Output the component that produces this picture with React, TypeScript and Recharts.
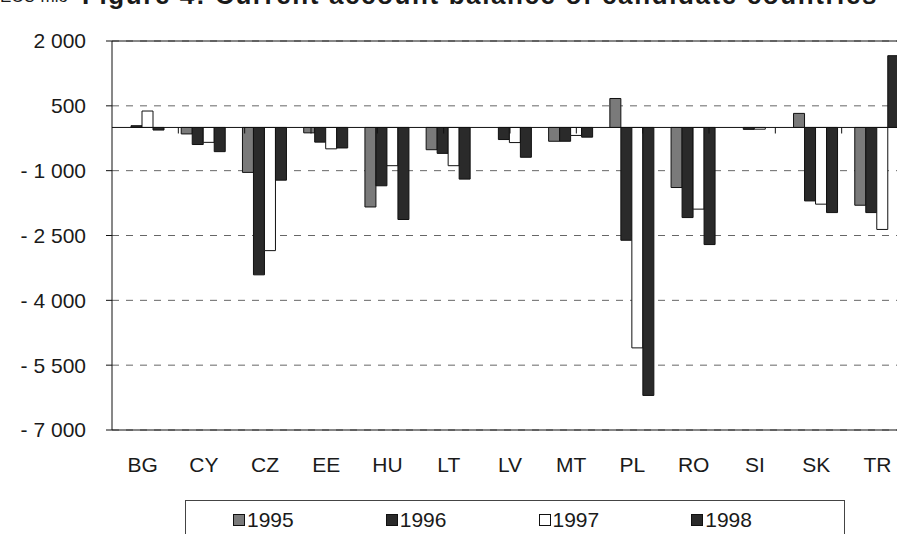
import { Bar, BarChart, CartesianGrid, ReferenceLine, XAxis, YAxis } from "recharts";

const countries = ["BG", "CY", "CZ", "EE", "HU", "LT", "LV", "MT", "PL", "RO", "SI", "SK", "TR"];
const years = ["1995", "1996", "1997", "1998"];
const values1995 = [null, -150, -1040, -125, -1840, -515, null, -320, 670, -1390, null, 325, -1800];
const values1996 = [40, -395, -3410, -340, -1350, -600, -280, -320, -2610, -2085, -45, -1700, -1970];
const values1997 = [380, -345, -2850, -495, -885, -885, -350, -185, -5100, -1890, -40, -1775, -2360];
const values1998 = [-60, -560, -1220, -475, -2130, -1195, -690, -225, -6200, -2710, null, -1970, 1660];
const yTicks = [2000, 500, -1000, -2500, -4000, -5500, -7000];

const seriesValues = [values1995, values1996, values1997, values1998];
const fills = ["#7a7a7a", "#2a2a2a", "#ffffff", "#2a2a2a"];

const chartData = countries.map((country, i) => {
  const row: Record<string, string | number | null> = { country };
  years.forEach((year, s) => {
    row[year] = seriesValues[s][i];
  });
  return row;
});

// category boundaries for the small ticks on the zero line
const boundaries = countries.slice(1).map((_, i) => i + 1);

const font = "'Liberation Sans', Arial, sans-serif";

const formatTick = (v: number) => {
  const s = Math.abs(v)
    .toString()
    .replace(/\B(?=(\d{3})+(?!\d))/g, " ");
  return v < 0 ? `- ${s}` : s;
};

const App = () => {
  return (
    <div
      style={{
        position: "absolute",
        left: 0,
        top: 0,
        width: 897,
        height: 534,
        overflow: "hidden",
        background: "#fff",
        fontFamily: font,
        color: "#1a1a1a",
      }}
    >
      <div style={{ position: "absolute", left: 0, top: -13, fontSize: 17, lineHeight: "20px", whiteSpace: "nowrap" }}>
        ECU mio
      </div>
      <div
        style={{
          position: "absolute",
          left: 82,
          top: -17,
          fontSize: 26,
          lineHeight: "24px",
          fontWeight: "bold",
          letterSpacing: 1.6,
          whiteSpace: "nowrap",
        }}
      >
        Figure 4: Current account balance of candidate countries
      </div>
      <div style={{ position: "absolute", left: 0, top: 0 }}>
        <BarChart
          width={920}
          height={534}
          data={chartData}
          margin={{ top: 41, right: 12, left: 0, bottom: 64 }}
          barCategoryGap={8}
          barGap={0}
        >
          <CartesianGrid vertical={false} stroke="#666" strokeDasharray="7 7" />
          <XAxis
            dataKey="country"
            tickLine={false}
            axisLine={{ stroke: "#111" }}
            height={40}
            tickSize={0}
            tickMargin={27}
            interval={0}
            tick={{ fill: "#1a1a1a", fontSize: 21, fontFamily: font }}
          />
          <XAxis xAxisId="grid" type="number" domain={[0, countries.length]} hide />
          <YAxis
            domain={[-7000, 2000]}
            ticks={yTicks}
            interval={0}
            allowDataOverflow
            width={112}
            tickSize={6}
            tickMargin={20}
            tickFormatter={formatTick}
            axisLine={{ stroke: "#111" }}
            tickLine={{ stroke: "#111" }}
            tick={{ fill: "#1a1a1a", fontSize: 21, fontFamily: font }}
          />
          <ReferenceLine y={2000} stroke="#111" />
          {years.map((year, s) => (
            <Bar
              key={year}
              dataKey={year}
              fill={fills[s]}
              stroke="#111"
              strokeWidth={1}
              isAnimationActive={false}
            />
          ))}
          <ReferenceLine y={0} stroke="#111" />
          {boundaries.map((b) => (
            <ReferenceLine
              key={b}
              xAxisId="grid"
              segment={[
                { x: b, y: 0 },
                { x: b, y: -140 },
              ]}
              stroke="#111"
            />
          ))}
        </BarChart>
      </div>
      <div
        style={{
          position: "absolute",
          left: 185,
          top: 500,
          width: 660,
          height: 60,
          border: "1px solid #444",
          background: "#fff",
          display: "flex",
          paddingLeft: 47,
          boxSizing: "border-box",
        }}
      >
        {years.map((year, s) => (
          <div key={year} style={{ width: 165, display: "flex", alignItems: "center", height: 38, fontSize: 21 }}>
            <span
              style={{
                display: "inline-block",
                width: 10,
                height: 10,
                background: fills[s],
                border: "1px solid #111",
                marginRight: 2,
              }}
            />
            <span>{year}</span>
          </div>
        ))}
      </div>
    </div>
  );
};

export default App;
